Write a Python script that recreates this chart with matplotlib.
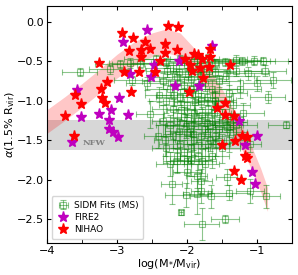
import numpy as np
import matplotlib.pyplot as plt

# SIDM fits (MS): log(M*/Mvir), alpha, and errors
sidm_x = [-3.53, -3.10, -2.96, -2.81, -2.67, -2.79, -2.57, -2.45, -2.30, -2.20,
          -2.10, -2.00, -1.90, -1.80, -1.70, -1.60, -1.46, -1.30, -1.21, -1.05,
          -0.91, -0.89, -0.77, -1.13, -1.30, -1.45, -1.60, -1.00, -0.59, -2.53,
          -2.35, -2.25, -2.15, -2.05, -1.95, -1.85, -1.75, -1.65, -1.55, -1.40,
          -1.25, -2.30, -2.20, -2.10, -2.00, -1.90, -1.80, -1.70, -1.60, -1.50,
          -1.35, -1.20, -2.40, -2.15, -2.05, -1.95, -1.85, -1.75, -1.65, -1.55,
          -2.25, -1.45, -1.30, -0.85, -2.20, -2.10, -2.00, -1.90, -1.80, -1.70,
          -1.60, -1.50, -2.15, -2.05, -1.95, -1.85, -1.75, -1.65, -2.30, -1.40,
          -2.25, -2.14, -2.00, -1.79, -1.86, -1.80, -1.80, -1.43, -2.01, -1.86,
          -1.66, -1.40, -1.10, -0.87, -2.09, -1.79, -1.46, -2.28, -2.12, -1.98,
          -1.82, -1.68, -2.18, -1.92, -1.72, -2.08, -1.88, -1.78, -2.02, -1.92,
          -1.72, -1.62, -2.12, -2.35, -2.42, -2.32, -1.58, -1.35, -1.10, -1.60,
          -1.39, -1.43, -1.67, -2.00, -1.95, -2.22]
sidm_y = [-0.64, -0.60, -0.53, -0.52, -0.53, -0.74, -0.78, -0.47, -0.52, -0.58,
          -0.47, -0.55, -0.50, -0.60, -0.47, -0.52, -0.51, -0.48, -0.50, -0.49,
          -0.49, -0.62, -0.74, -0.65, -0.62, -0.68, -0.64, -0.78, -1.30, -1.17,
          -0.75, -0.85, -0.70, -0.80, -0.72, -0.90, -0.78, -0.85, -0.75, -0.90,
          -0.85, -1.00, -1.10, -0.95, -1.05, -1.15, -1.00, -1.10, -1.00, -1.20,
          -1.05, -1.15, -0.92, -1.25, -1.20, -1.30, -1.25, -1.35, -1.25, -1.35,
          -1.30, -1.30, -1.30, -0.95, -1.45, -1.55, -1.40, -1.50, -1.45, -1.55,
          -1.45, -1.60, -1.70, -1.65, -1.75, -1.70, -1.80, -1.70, -1.60, -1.50,
          -1.80, -1.76, -1.76, -1.76, -1.95, -2.01, -2.14, -1.96, -2.19, -2.18,
          -2.21, -2.16, -2.14, -2.21, -2.41, -2.56, -2.50, -0.62, -0.64, -0.66,
          -0.68, -0.62, -0.92, -0.85, -0.95, -1.12, -1.02, -1.18, -1.32, -1.42,
          -1.28, -1.15, -1.38, -1.25, -1.45, -1.50, -1.55, -1.40, -1.55, -0.99,
          -1.27, -1.33, -1.49, -1.90, -1.60, -2.05]
sidm_xerr = [0.25, 0.30, 0.35, 0.30, 0.40, 0.25, 0.30, 0.45, 0.50, 0.40,
             0.55, 0.45, 0.50, 0.40, 0.55, 0.45, 0.40, 0.35, 0.40, 0.30,
             0.35, 0.30, 0.25, 0.30, 0.35, 0.40, 0.30, 0.20, 0.25, 0.20,
             0.30, 0.35, 0.40, 0.30, 0.45, 0.30, 0.35, 0.40, 0.30, 0.25,
             0.30, 0.25, 0.30, 0.35, 0.40, 0.30, 0.35, 0.30, 0.25, 0.30,
             0.25, 0.30, 0.20, 0.25, 0.30, 0.35, 0.30, 0.25, 0.30, 0.20,
             0.20, 0.25, 0.30, 0.25, 0.25, 0.30, 0.25, 0.30, 0.25, 0.30,
             0.20, 0.25, 0.20, 0.25, 0.30, 0.25, 0.20, 0.25, 0.20, 0.25,
             0.20, 0.20, 0.20, 0.20, 0.15, 0.15, 0.15, 0.15, 0.30, 0.20,
             0.30, 0.30, 0.20, 0.20, 0.03, 0.25, 0.20, 0.30, 0.35, 0.30,
             0.40, 0.30, 0.25, 0.30, 0.35, 0.20, 0.30, 0.25, 0.30, 0.25,
             0.30, 0.25, 0.20, 0.15, 0.20, 0.15, 0.20, 0.20, 0.15, 0.30,
             0.25, 0.20, 0.20, 0.20, 0.25, 0.15]
sidm_yerr = [0.05, 0.06, 0.05, 0.06, 0.05, 0.06, 0.08, 0.05, 0.06, 0.07,
             0.05, 0.06, 0.05, 0.08, 0.06, 0.05, 0.05, 0.06, 0.05, 0.06,
             0.05, 0.07, 0.10, 0.08, 0.06, 0.07, 0.06, 0.10, 0.04, 0.17,
             0.10, 0.12, 0.08, 0.10, 0.09, 0.12, 0.10, 0.12, 0.08, 0.10,
             0.12, 0.15, 0.12, 0.10, 0.15, 0.12, 0.10, 0.15, 0.12, 0.10,
             0.15, 0.12, 0.10, 0.15, 0.12, 0.15, 0.10, 0.12, 0.15, 0.12,
             0.12, 0.10, 0.12, 0.08, 0.15, 0.20, 0.15, 0.18, 0.15, 0.20,
             0.15, 0.18, 0.20, 0.15, 0.20, 0.18, 0.20, 0.15, 0.18, 0.15,
             0.15, 0.15, 0.15, 0.15, 0.15, 0.15, 0.15, 0.10, 0.15, 0.25,
             0.15, 0.10, 0.15, 0.15, 0.03, 0.20, 0.05, 0.08, 0.10, 0.08,
             0.10, 0.08, 0.15, 0.12, 0.10, 0.12, 0.15, 0.10, 0.15, 0.20,
             0.12, 0.15, 0.15, 0.20, 0.15, 0.20, 0.15, 0.12, 0.10, 0.10,
             0.10, 0.10, 0.15, 0.20, 0.20, 0.25]

# FIRE2 simulations
fire_x = [-2.57, -2.91, -3.57, -2.97, -3.09, -3.26, -3.51, -3.11, -2.84, -3.11,
          -3.06, -2.99, -3.64, -1.64, -2.47, -2.11, -2.81, -2.51, -2.17, -1.83,
          -1.26, -1.00, -1.17, -1.07, -1.03]
fire_y = [-0.10, -0.26, -0.86, -0.96, -1.11, -1.16, -1.21, -1.24, -1.175, -1.36,
          -1.39, -1.46, -1.525, -0.31, -0.54, -0.49, -0.66, -0.70, -0.81, -0.81,
          -1.26, -1.45, -1.56, -1.90, -2.05]

# NIHAO simulations
nihao_x = [-2.93, -2.77, -2.60, -2.83, -2.66, -2.66, -3.26, -2.90, -2.69, -3.14,
           -3.23, -3.60, -3.21, -3.17, -3.51, -3.74, -3.61, -2.80, -2.27, -2.13,
           -2.31, -2.53, -2.14, -2.31, -2.39, -2.46, -2.03, -1.90, -1.84, -1.79,
           -1.96, -1.93, -1.81, -1.77, -1.67, -1.67, -1.69, -1.39, -1.97, -1.46,
           -1.57, -1.46, -1.33, -1.21, -1.14, -1.31, -1.50, -1.17, -1.14, -1.33,
           -1.23]
nihao_y = [-0.14, -0.21, -0.25, -0.375, -0.36, -0.45, -0.525, -0.64, -0.64, -0.76,
           -0.85, -0.925, -0.96, -1.025, -1.04, -1.19, -1.45, -0.89, -0.05, -0.06,
           -0.275, -0.34, -0.36, -0.40, -0.50, -0.64, -0.475, -0.41, -0.425, -0.475,
           -0.55, -0.625, -0.59, -0.71, -0.34, -0.44, -0.575, -0.54, -0.89, -1.025,
           -1.09, -1.175, -1.19, -1.45, -1.46, -1.51, -1.56, -1.70, -1.725, -1.89,
           -2.00]

# pink relation band (centre)
band_x = [-4.1, -4.0, -3.75, -3.5, -3.25, -3.0, -2.75, -2.5, -2.3, -2.1,
          -1.9, -1.7, -1.5, -1.3, -1.1, -0.95, -0.85]
band_c = [-1.30, -1.26, -1.10, -0.93, -0.75, -0.56, -0.40, -0.29, -0.24, -0.29,
          -0.48, -0.72, -1.00, -1.32, -1.68, -2.00, -2.25]
band_w = 0.15

# NFW range
nfw_lo = -1.62
nfw_hi = -1.24

fig = plt.figure(figsize=(2.98, 2.75), dpi=100)
ax = fig.add_axes([0.158, 0.116, 0.822, 0.862])

ax.axhspan(nfw_lo, nfw_hi, color='lightgray', alpha=0.9, lw=0, zorder=0)
ax.text(-3.49, -1.53, 'NFW', color='gray', fontsize=6, family='DejaVu Serif',
        fontweight='bold', va='center')

bc = np.array(band_c)
ax.fill_between(band_x, bc - band_w, bc + band_w, color='red', alpha=0.22,
                lw=0, zorder=1)

eb = ax.errorbar(sidm_x, sidm_y, xerr=sidm_xerr, yerr=sidm_yerr, fmt='s',
                 mfc='none', mec='green', ecolor='green', ms=4, mew=0.8,
                 elinewidth=0.8, capsize=2, alpha=0.45, zorder=2,
                 label='SIDM Fits (MS)')
fire, = ax.plot(fire_x, fire_y, '*', color='m', ms=8, mec='m', ls='none',
                zorder=3, label='FIRE2')
nihao, = ax.plot(nihao_x, nihao_y, '*', color='red', ms=8, mec='red',
                 ls='none', zorder=4, label='NIHAO')

ax.set_xlim(-4, -0.5)
ax.set_ylim(-2.8, 0.2)
ax.set_xticks([-4, -3, -2, -1])
ax.set_xticks([-3.5, -2.5, -1.5, -0.5], minor=True)
ax.set_yticks([0.0, -0.5, -1.0, -1.5, -2.0, -2.5])
ax.tick_params(which='both', direction='in', top=True, right=True,
               labelsize=8, length=3, pad=2)
ax.set_xlabel(r'log(M$_{*}$/M$_{\rm vir}$)', fontsize=8, labelpad=1)
ax.set_ylabel(r'$\alpha$(1.5% R$_{\rm vir}$)', fontsize=8, labelpad=0)

ax.legend(handles=[eb, fire, nihao], loc='lower left', fontsize=6.5,
          handletextpad=0.4, borderpad=0.5, labelspacing=0.35,
          handlelength=1.6)

fig.savefig('out.png', dpi=100)
